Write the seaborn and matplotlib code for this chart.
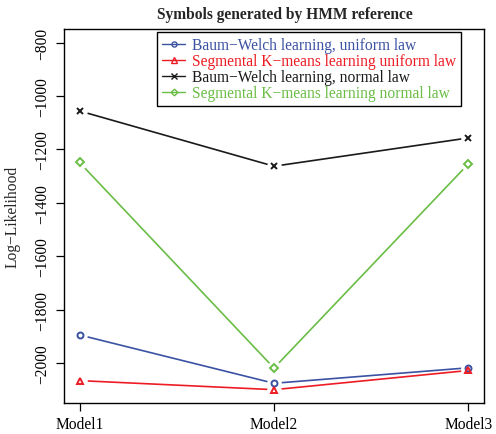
import matplotlib
matplotlib.use("Agg")
import matplotlib.pyplot as plt
import seaborn as sns
import pandas as pd
from matplotlib.lines import Line2D

# ---- data ----
models = ["Model1", "Model2", "Model3"]
bw_uniform = [-1895, -2076, -2018]
skm_uniform = [-2066, -2100, -2028]
bw_normal = [-1056, -1263, -1157]
skm_normal = [-1249, -2019, -1254]
series_names = ["Baum\u2212Welch learning, uniform law",
                "Segmental K\u2212means learning uniform law",
                "Baum\u2212Welch learning, normal law",
                "Segmental K\u2212means learning normal law"]
yticks = [-800, -1000, -1200, -1400, -1600, -1800, -2000]
title = "Symbols generated by HMM reference"
ylabel = "Log\u2212Likelihood"

colors = ["#3B52A3", "#ED1C24", "#1A1A1A", "#6ABD45"]
marks = ["o", "^", "x", "D"]
msizes = [4.3, 5.0, 4.3, 4.0]

sns.set_style("white")
plt.rcParams["font.family"] = ["Liberation Serif", "DejaVu Serif"]
plt.rcParams["axes.unicode_minus"] = True

FS = 11.2

fig = plt.figure(figsize=(4.96, 4.35), dpi=100)
ax = fig.add_axes([64/496, 1-404.3/435, (484-64)/496, (404.3-30)/435])

values = [bw_uniform, skm_uniform, bw_normal, skm_normal]
pos = list(range(len(models)))
for name, vals, c, m, ms in zip(series_names, values, colors, marks, msizes):
    df = pd.DataFrame({"x": pos, "y": vals})
    sns.lineplot(data=df, x="x", y="y", color=c, lw=1.2, ax=ax, zorder=2)
    ax.plot(df["x"], df["y"], ls="none", marker="o", ms=9.5, mfc="white",
            mec="white", zorder=3)
    ax.plot(df["x"], df["y"], ls="none", marker=m, ms=ms, mfc="none",
            mec=c, mew=1.4, zorder=4)

ax.set_xlim(-0.08, 2.08)
ax.set_ylim(-2151, -749)
ax.set_xticks(pos, models)
ax.set_yticks(yticks, [f"{v}".replace("-", "\u2212") for v in yticks], rotation=90, va="center")
ax.set_xlabel("")
ax.set_ylabel("")
for s in ax.spines.values():
    s.set_color("black")
    s.set_linewidth(1.0)
ax.tick_params(axis="both", direction="out", length=6, width=0.9, color="black",
               labelsize=FS, labelcolor="black", left=True, bottom=True)
ax.tick_params(axis="x", pad=3)
ax.tick_params(axis="y", pad=4)

fig.text(285/496, 1-15/435, title, ha="center", va="center", fontsize=FS,
         fontweight="bold")
fig.text(13/496, 1-217/435, ylabel, ha="center", va="center", rotation=90,
         fontsize=FS)

handles = [Line2D([], [], color=c, lw=1.0, marker=m, ms=ms*0.85, mfc="none",
                  mec=c, mew=1.0) for c, m, ms in zip(colors, marks, msizes)]
leg = fig.legend(handles, series_names, loc="upper left",
                 bbox_to_anchor=(157.3/496, 1-33.3/435), borderaxespad=0,
                 fontsize=FS, frameon=True, fancybox=False, framealpha=1,
                 edgecolor="black", handlelength=1.5, handletextpad=0.45,
                 labelspacing=0.0, borderpad=0.3)
leg.get_frame().set_linewidth(1.0)
for t, c in zip(leg.get_texts(), colors):
    t.set_color(c)

fig.savefig("out.png", dpi=100)
